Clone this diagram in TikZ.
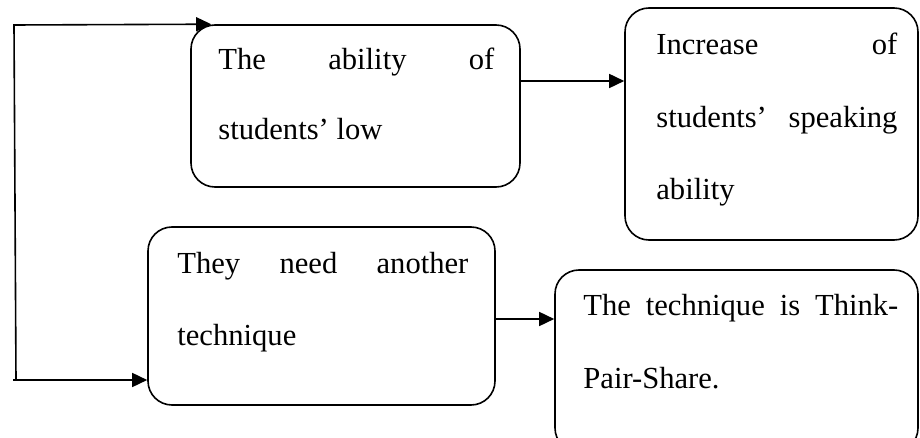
\documentclass[tikz,border=0pt]{standalone}
\usepackage{fontspec}
\setmainfont{Liberation Serif}
\usetikzlibrary{arrows.meta}

\begin{document}
\begin{tikzpicture}[x=0.5pt,y=-0.5pt,
  box/.style={draw, line width=0.8pt, rounded corners=12pt, inner sep=0pt},
  txt/.style={inner sep=0pt, anchor=base west, font=\fontsize{15.3}{36}\selectfont},
  arr/.style={line width=0.8pt, -{Triangle[length=7.5pt,width=7pt]}},
  ln/.style={line width=0.8pt}]
\useasboundingbox (0,0) rectangle (920,438);

% the four boxes
\node[box, minimum width=164.5pt, minimum height=81pt]  (a) at (355.5,106) {};
\node[box, minimum width=146.5pt, minimum height=116pt] (b) at (771.5,124) {};
\node[box, minimum width=173.5pt, minimum height=89pt]  (c) at (321.5,316) {};
\node[box, minimum width=181.5pt, minimum height=91pt]  (d) at (736.5,361) {};

% box texts, set line by line (first lines justified)
\node[txt] (a1) at (218,70)  {\makebox[138pt][s]{The ability of}};
\node[txt] (a2) at (218,140) {students’ low};

\node[txt] (b1) at (656,55)  {\makebox[120.5pt][s]{Increase of}};
\node[txt] (b2) at (656,128) {\makebox[120.5pt][s]{students’ speaking}};
\node[txt] (b3) at (656,200) {ability};

\node[txt] (c1) at (177,273) {\makebox[145.5pt][s]{They need another}};
\node[txt] (c2) at (177,345) {technique};

\node[txt] (d1) at (583,315) {\makebox[157.5pt][s]{The technique is Think-}};
\node[txt] (d2) at (583,388) {Pair-Share.};

% connectors
\coordinate (lt) at (14,25);
\coordinate (lb) at (16,380);
\coordinate (ls) at (13,380);

\draw[arr] (a.east |- 0,81) -- (b.west |- 0,81);
\draw[arr] (c.east |- 0,319) -- (d.west |- 0,319);
\draw[arr] (lb) -- (lt) -- ([xshift=10.5pt]a.north west);
\draw[arr] (ls) -- (c.west |- ls);
\end{tikzpicture}
\end{document}
